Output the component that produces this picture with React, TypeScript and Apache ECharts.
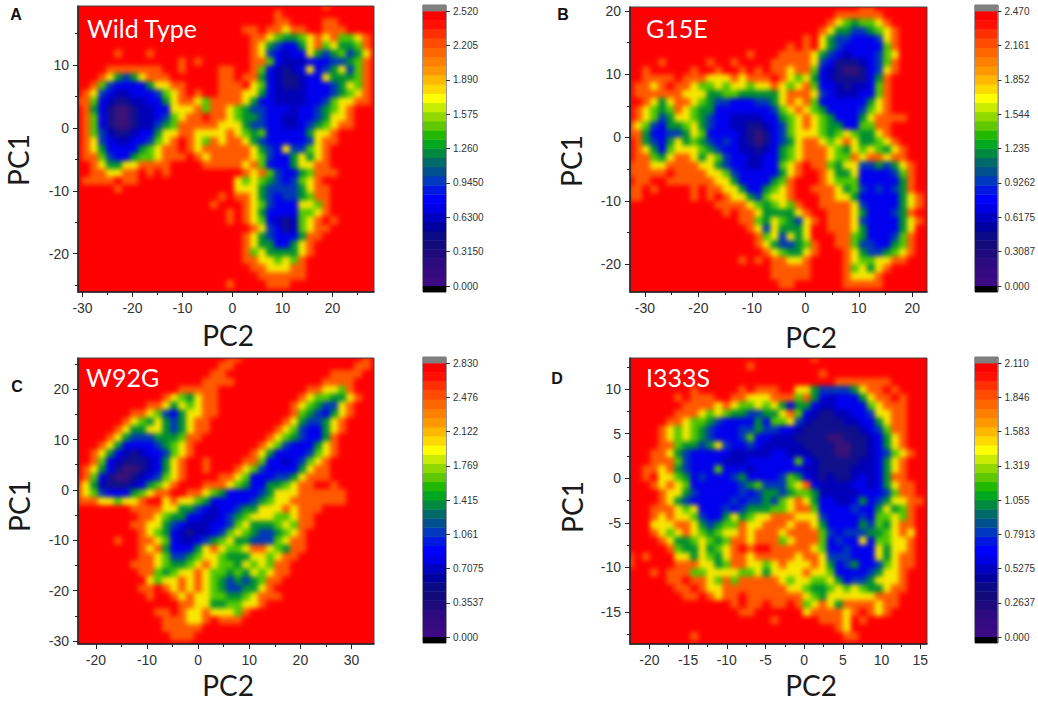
import { useEffect, useRef } from 'react';
import * as echarts from 'echarts';

// free energy levels, 0 = deepest well, 9 = red plateau
const wildTypeRows = [
  '9999999999 9999999999 9999999999 9899999',
  '9999999999 9999999999 9999989999 9999999',
  '9999999999 9999999999 9999988999 9889999',
  '9999999999 9999999999 9889887889 9888999',
  '9999999999 9999999999 9988765567 8786678',
  '9999999999 9999999999 9987543357 8675568',
  '9999989998 9999999999 9987432337 5456457',
  '9999999999 9998989999 9988632223 3344568',
  '9999888888 8998999988 9986321237 3457468',
  '9998754578 8899999988 9885321123 3755568',
  '9986433335 7788999988 8976321123 3345768',
  '9874322333 4678989988 8775322223 3345678',
  '8863211223 3578876888 8753322223 3467788',
  '9853100122 3377786887 6544333233 4567899',
  '9863100122 3467889887 6554332233 4577899',
  '9863100122 4568888877 7544332234 5678899',
  '9864211233 5778877778 7656333335 7789999',
  '9874322334 6789876878 8754333334 7889999',
  '9875333356 7889878888 8875437446 7899999',
  '9886433566 7888987888 8876433575 7899999',
  '9987557788 8899998888 8786333577 8899999',
  '9988778898 9899999999 9878643356 8889999',
  '9888898899 9999999999 7676543467 8999999',
  '9999989999 9999999999 7775444457 8899999',
  '9999999999 9999999989 8875434456 8899999',
  '9999999999 9999999899 9876433377 6899999',
  '9999999999 9999999998 9875333366 7899999',
  '9999999999 9999999998 9876321267 8989999',
  '9999999999 9999999999 9987431267 8899999',
  '9999999999 9999999999 9875433358 8999999',
  '9999999999 9999999999 9875533578 9999999',
  '9999999999 9999999999 9867555578 9999999',
  '9999999999 9999999999 9887767689 9999999',
  '9999999999 9999999999 9988777889 9999999',
  '9999999999 9999999999 9998888889 9999999',
  '9999999999 9999999998 9999888999 9999999',
];

const g15eRows = [
  '9999999999 9999999999 9999999998 8999999',
  '9999999999 9999999999 9999998888 8899999',
  '9999999999 9999999999 9999987656 6789999',
  '9999999999 9999999999 9999875544 5678999',
  '9999999999 9999999999 9989754433 3478999',
  '9999999999 9999999999 8989754333 3368999',
  '9999999999 9999989998 8887543233 3467999',
  '9999899999 8998999988 8887431112 3468999',
  '9989999989 9899898988 7886321001 3478999',
  '9988889888 7778788898 7675321111 3589999',
  '9887898876 6767767787 6786332122 3689999',
  '9888888777 5566555557 8887432223 3689999',
  '9987578876 5443334457 8786333333 5789999',
  '9876568765 5333333346 7876533334 6789999',
  '9876457765 4332222335 6787653335 7888899',
  '8764355675 4332211234 6787655336 6889999',
  '8853344576 3333210134 6777656765 5789999',
  '9854357565 4343210134 5788767875 5678999',
  '9875367776 5433221235 6788876576 7657899',
  '9886578875 7643322335 6788876687 8878899',
  '8887788887 7543322336 7898865774 4545789',
  '8888898888 7764333335 7899875573 3334689',
  '9889988888 8775333356 8999876663 3333589',
  '8898999989 8877533567 8998887564 3434589',
  '8899999989 8987754677 8999887753 3333578',
  '9999999999 9888876567 6899888874 3333578',
  '9999999999 9989887555 5789988875 3334589',
  '9999999999 9999886576 5478988874 3333578',
  '9999999999 9999987475 5579988875 3333579',
  '9999999999 9999998674 7579998865 3334689',
  '9999999999 9999998754 4568998864 4335689',
  '9999999999 9999999876 5578999875 4456789',
  '9999999999 9999898988 7789999876 6778899',
  '9999999999 9999999988 8889999867 5789999',
  '9999999999 9999999988 8889999877 7899999',
  '9999999999 9999999998 8999999888 8899999',
];

const w92gRows = [
  '9999999999 9999999998 8999999999 9999998',
  '9999999999 9999999988 9999999999 9999988',
  '9999999999 9999999889 9999999999 9988889',
  '9999999999 9999998888 9999999999 9888899',
  '9999999999 9998888899 9999999998 8776899',
  '9999999999 9876578899 9999999987 6655789',
  '9999999998 8757678899 9999999876 5447899',
  '9999999887 6435778899 9999999865 4357899',
  '9999998765 7545788999 9999998754 4578999',
  '9999987557 7545788999 9999987643 3578999',
  '9999875444 5556889999 9999876543 3589999',
  '9998753333 4567899999 9998764333 5789999',
  '9987532123 3467899999 9987533334 6789999',
  '9986321112 3578998999 9886332346 7899999',
  '9875310012 3578998999 8764333357 8899999',
  '9863100123 4678999988 7633344578 8899999',
  '8752111235 6789998887 6533556788 9989999',
  '8764333567 8899887653 3334577788 8888999',
  '8887767789 9787765333 3345677888 8888999',
  '9999999888 8775543233 4557778788 8999999',
  '9999999988 7655332234 5677766788 9999999',
  '9999999887 7543222334 6755567688 9999999',
  '9999999987 6532122346 7654456789 9999999',
  '9999989988 7632234567 5544467889 9999999',
  '9999999987 8533357876 6788765889 9999999',
  '9999999988 7644567765 5577678899 9999999',
  '9999999888 7655678766 5767688999 9999999',
  '9999999988 6567787665 6576788999 9999999',
  '9999999997 6778787654 5456889999 9999999',
  '9999999988 9878787654 4557899999 9999999',
  '9999999998 9987877665 5678889999 9999999',
  '9999999999 9998877556 6778999999 9999999',
  '9999999999 8898778777 6899999999 9999999',
  '9999999999 9888778988 8999999999 9999999',
  '9999999999 9888889999 9999999999 9999999',
  '9999999999 9988899999 9999999999 9999999',
];

const i333sRows = [
  '9999999999 9999999999 9998999999 9999999',
  '9999999999 9999989999 9999999999 9999999',
  '9999999999 9999999999 9999899999 9999999',
  '9999999999 9999999999 9999998888 8889999',
  '9999999989 9999898889 9775444457 8898999',
  '9999998988 8998877788 8685323335 7889899',
  '9999999888 8787667675 3553223333 6788899',
  '9999998887 6765544557 8632112233 4778899',
  '9999988766 5433335366 7421111223 3578899',
  '9999876765 4333445443 3211111112 3468899',
  '9999876765 4333463322 2111100111 2357899',
  '9999886554 5743343222 2211110011 2357899',
  '9998875433 3332222233 2221110011 2346789',
  '9998886433 3322233333 3632111112 2357899',
  '9988785433 3633323333 3322111122 2357899',
  '9989776534 3334533334 6532121123 2358899',
  '9998787633 3333456444 6783222233 2357889',
  '9999877543 3333434554 5665222223 3346889',
  '9999875433 3334344546 7875332235 3457788',
  '9998887673 3343455566 7886333343 3575689',
  '9998787764 3357567788 8777433334 3667689',
  '9997778875 4566877888 7887533335 4657889',
  '9998767876 5677878887 8888643444 5567879',
  '9999875567 6568878886 7888634337 3667789',
  '9999986557 5678989988 8887633433 3757789',
  '8989997757 6578878888 8788744433 3757889',
  '8999998887 7568877678 7778753453 3467889',
  '9998988866 7777667577 7787763333 4577899',
  '9999988988 7686888887 6776675344 5777899',
  '9999998898 7788888888 7765567676 5578899',
  '9999999889 8788988888 8876577777 7888999',
  '9999999999 9998988988 9867875888 8788999',
  '9999999999 9999889999 9978888789 8789999',
  '9999999999 9999999989 9999888798 9999999',
  '9999999999 9999999999 9999998799 9999999',
  '9999999989 9999999999 9999999889 9999999',
];

const levelColors = ['#3a1278', '#10108c', '#0000b8', '#0000ee', '#0038b8', '#009030', '#50c800', '#f8e800', '#ff5a00', '#ff0000'];

// colour bar bands from bottom to top
const barColors = [
  '#3c0a82', '#360a82', '#2c0a80', '#1e0a7c', '#120a7a', '#0a0a86', '#0000a0', '#0000c0', '#0000e6', '#0000ff',
  '#0018e0', '#0038c0', '#00508e', '#006a6a', '#008a40', '#00a820', '#20b800', '#60c800', '#90d800', '#c8ec00',
  '#ffff00', '#ffd800', '#ffb800', '#ff9800', '#ff8000', '#ff6600', '#ff4c00', '#ff3000', '#ff1000', '#ff0000',
];

const barLabelsA = ['0.000', '0.3150', '0.6300', '0.9450', '1.260', '1.575', '1.890', '2.205', '2.520'];
const barLabelsB = ['0.000', '0.3087', '0.6175', '0.9262', '1.235', '1.544', '1.852', '2.161', '2.470'];
const barLabelsC = ['0.000', '0.3537', '0.7075', '1.061', '1.415', '1.769', '2.122', '2.476', '2.830'];
const barLabelsD = ['0.000', '0.2637', '0.5275', '0.7913', '1.055', '1.319', '1.583', '1.846', '2.110'];

const xMajorA = [-30, -20, -10, 0, 10, 20];
const xMinorA = [-25, -15, -5, 5, 15, 25];
const yMajorA = [-20, -10, 0, 10];
const yMinorA = [-25, -15, -5, 5, 15];
const xMajorB = [-30, -20, -10, 0, 10, 20];
const xMinorB = [-25, -15, -5, 5, 15];
const yMajorB = [-20, -10, 0, 10, 20];
const yMinorB = [-15, -5, 5, 15];
const xMajorC = [-20, -10, 0, 10, 20, 30];
const xMinorC = [-15, -5, 5, 15, 25];
const yMajorC = [-30, -20, -10, 0, 10, 20];
const yMinorC = [-25, -15, -5, 5, 15, 25];
const xMajorD = [-20, -15, -10, -5, 0, 5, 10, 15];
const xMinorD = [-17.5, -12.5, -7.5, -2.5, 2.5, 7.5, 12.5];
const yMajorD = [-15, -10, -5, 0, 5, 10];
const yMinorD = [-17.5, -12.5, -7.5, -2.5, 2.5, 7.5, 12.5];

const panels = [
  {
    letter: 'A', letterPos: [16, 14], title: 'Wild Type', titlePos: [87, 28], rows: wildTypeRows,
    left: 78, top: 6, width: 296, height: 286,
    xRange: [-30.9, 28.3], yRange: [-26.1, 19.4],
    xMajor: xMajorA, xMinor: xMinorA, yMajor: yMajorA, yMinor: yMinorA,
    pc1Pos: [18, 160], pc2Pos: [228, 335],
    barLeft: 423, barTop: 11, barHeight: 275, barLabels: barLabelsA,
  },
  {
    letter: 'B', letterPos: [563, 14], title: 'G15E', titlePos: [646, 28], rows: g15eRows,
    left: 630, top: 7, width: 297, height: 285,
    xRange: [-32.8, 22.75], yRange: [-24.4, 20.6],
    xMajor: xMajorB, xMinor: xMinorB, yMajor: yMajorB, yMinor: yMinorB,
    pc1Pos: [571, 161], pc2Pos: [811, 337],
    barLeft: 975, barTop: 11, barHeight: 275, barLabels: barLabelsB,
  },
  {
    letter: 'C', letterPos: [17, 386], title: 'W92G', titlePos: [86, 377], rows: w92gRows,
    left: 78, top: 358, width: 296, height: 286,
    xRange: [-23.5, 34.4], yRange: [-30.6, 26.2],
    xMajor: xMajorC, xMinor: xMinorC, yMajor: yMajorC, yMinor: yMinorC,
    pc1Pos: [19, 506], pc2Pos: [228, 685],
    barLeft: 423, barTop: 363, barHeight: 274, barLabels: barLabelsC,
  },
  {
    letter: 'D', letterPos: [557, 378], title: 'I333S', titlePos: [646, 377], rows: i333sRows,
    left: 630, top: 358, width: 297, height: 286,
    xRange: [-22.5, 15.87], yRange: [-18.6, 13.5],
    xMajor: xMajorD, xMinor: xMinorD, yMajor: yMajorD, yMinor: yMinorD,
    pc1Pos: [572, 507], pc2Pos: [811, 685],
    barLeft: 975, barTop: 363, barHeight: 274, barLabels: barLabelsD,
  },
];

const capSize = 0.17;
const tickFont = { fontFamily: 'Liberation Sans', fontSize: 14, color: '#333' };

function HeatPanel({ rows, left, top, width, height }: any) {
  const ref = useRef<HTMLDivElement>(null);

  useEffect(() => {
    if (!ref.current) return;
    const chart = echarts.init(ref.current, undefined, { renderer: 'svg' });
    const grid = rows.map((row: string) => row.replace(/ /g, ''));
    const cells: number[][] = [];
    grid.forEach((row: string, r: number) => {
      row.split('').forEach((ch, c) => cells.push([c, r, Number(ch)]));
    });
    chart.setOption({
      animation: false,
      grid: { left: 0, right: 0, top: 0, bottom: 0 },
      xAxis: { type: 'value', min: 0, max: grid[0].length, show: false },
      yAxis: { type: 'value', min: 0, max: grid.length, inverse: true, show: false },
      series: [
        {
          type: 'custom',
          silent: true,
          clip: false,
          data: cells,
          // a cell's index is its centre, the rows were read at those positions
          renderItem: (_: any, api: any) => {
            const a = api.coord([api.value(0) - 0.5, api.value(1) - 0.5]);
            const b = api.coord([api.value(0) + 0.5, api.value(1) + 0.5]);
            return {
              type: 'rect',
              shape: { x: a[0], y: a[1], width: b[0] - a[0] + 0.6, height: b[1] - a[1] + 0.6 },
              style: { fill: levelColors[api.value(2)] },
            };
          },
        },
      ],
    });
    return () => chart.dispose();
  }, [rows, width, height]);

  return (
    <div style={{ position: 'absolute', left, top, width, height, overflow: 'hidden', background: '#ff0000' }}>
      <div ref={ref} style={{ width, height, filter: 'blur(2.4px)' }} />
    </div>
  );
}

export default function App() {
  const chartRef = useRef<HTMLDivElement>(null);

  useEffect(() => {
    if (!chartRef.current) return;
    const chart = echarts.init(chartRef.current, undefined, { renderer: 'svg' });

    const grids: any[] = [];
    const xAxes: any[] = [];
    const yAxes: any[] = [];
    const series: any[] = [];
    const graphics: any[] = [];
    const axisLine = { show: true, onZero: false, lineStyle: { color: '#222', width: 1.5 } };
    const noLine = { show: false, onZero: false };

    panels.forEach((p) => {
      grids.push({
        left: p.left, top: p.top, width: p.width, height: p.height,
        show: true, backgroundColor: 'transparent', borderColor: '#444', borderWidth: 1,
      });
      xAxes.push({
        type: 'value', gridIndex: grids.length - 1, min: p.xRange[0], max: p.xRange[1],
        splitLine: { show: false }, axisLine,
        axisTick: { show: true, length: 5, customValues: p.xMajor, lineStyle: { color: '#222' } },
        axisLabel: { ...tickFont, margin: 9, customValues: p.xMajor },
      });
      xAxes.push({
        type: 'value', gridIndex: grids.length - 1, min: p.xRange[0], max: p.xRange[1], position: 'bottom',
        splitLine: { show: false }, axisLine: noLine,
        axisTick: { show: true, length: 3, customValues: p.xMinor, lineStyle: { color: '#222' } },
        axisLabel: { show: false },
      });
      yAxes.push({
        type: 'value', gridIndex: grids.length - 1, min: p.yRange[0], max: p.yRange[1],
        splitLine: { show: false }, axisLine,
        axisTick: { show: true, length: 5, customValues: p.yMajor, lineStyle: { color: '#222' } },
        axisLabel: { ...tickFont, margin: 9, customValues: p.yMajor },
      });
      yAxes.push({
        type: 'value', gridIndex: grids.length - 1, min: p.yRange[0], max: p.yRange[1], position: 'left',
        splitLine: { show: false }, axisLine: noLine,
        axisTick: { show: true, length: 3, customValues: p.yMinor, lineStyle: { color: '#222' } },
        axisLabel: { show: false },
      });

      // colour bar, its scale runs 0..8 over the nine printed labels
      grids.push({ left: p.barLeft, top: p.barTop, width: 23, height: p.barHeight });
      const barGrid = grids.length - 1;
      xAxes.push({ type: 'value', gridIndex: barGrid, min: 0, max: 1, show: false });
      yAxes.push({
        type: 'value', gridIndex: barGrid, min: 0, max: 8, interval: 1, position: 'right',
        splitLine: { show: false }, axisLine: noLine,
        axisTick: { show: true, length: 4, lineStyle: { color: '#333' } },
        axisLabel: {
          fontFamily: 'Liberation Sans', fontSize: 10, color: '#333', margin: 7,
          formatter: (v: number) => p.barLabels[Math.round(v)],
        },
      });
      const step = 8 / barColors.length;
      const bands: any[] = barColors.map((color, k) => [k * step, (k + 1) * step, color]);
      bands.push([-capSize, 0, '#000000'], [8, 8 + capSize, '#808080']);
      series.push({
        type: 'custom',
        silent: true,
        xAxisIndex: xAxes.length - 1,
        yAxisIndex: yAxes.length - 1,
        clip: false,
        data: bands.map((b) => [b[0], b[1]]),
        renderItem: (params: any, api: any) => {
          const a = api.coord([0, api.value(1)]);
          const b = api.coord([1, api.value(0)]);
          return {
            type: 'rect',
            shape: { x: a[0], y: a[1], width: b[0] - a[0], height: b[1] - a[1] + 0.4 },
            style: { fill: bands[params.dataIndex][2] },
          };
        },
      });

      const unit = p.barHeight / 8;
      graphics.push({
        type: 'rect', silent: true,
        shape: { x: p.barLeft, y: p.barTop - capSize * unit, width: 23, height: p.barHeight + 2 * capSize * unit },
        style: { fill: 'none', stroke: '#333', lineWidth: 1 },
      });
      graphics.push({
        type: 'text', x: p.letterPos[0], y: p.letterPos[1],
        style: { text: p.letter, fontFamily: 'Liberation Sans', fontWeight: 'bold', fontSize: 16, fill: '#111', textAlign: 'center', textVerticalAlign: 'middle' },
      });
      graphics.push({
        type: 'text', x: p.titlePos[0], y: p.titlePos[1],
        style: { text: p.title, fontFamily: 'Lato', fontSize: 25, fill: '#ffffff', textVerticalAlign: 'middle', shadowColor: 'rgba(60,0,0,0.7)', shadowBlur: 2, shadowOffsetX: 1, shadowOffsetY: 1 },
      });
      graphics.push({
        type: 'text', x: p.pc1Pos[0], y: p.pc1Pos[1], rotation: Math.PI / 2,
        style: { text: 'PC1', fontFamily: 'Lato', fontSize: 28, fill: '#1a1a1a', textAlign: 'center', textVerticalAlign: 'middle' },
      });
      graphics.push({
        type: 'text', x: p.pc2Pos[0], y: p.pc2Pos[1],
        style: { text: 'PC2', fontFamily: 'Lato', fontSize: 28, fill: '#1a1a1a', textAlign: 'center', textVerticalAlign: 'middle' },
      });
    });

    chart.setOption({
      animation: false,
      grid: grids,
      xAxis: xAxes,
      yAxis: yAxes,
      series,
      graphic: graphics,
    });

    return () => chart.dispose();
  }, []);

  return (
    <div style={{ position: 'fixed', left: 0, top: 0, width: 1038, height: 702, background: '#ffffff' }}>
      {panels.map((p) => (
        <HeatPanel key={p.letter} rows={p.rows} left={p.left} top={p.top} width={p.width} height={p.height} />
      ))}
      <div ref={chartRef} style={{ position: 'absolute', left: 0, top: 0, width: 1038, height: 702 }} />
    </div>
  );
}
